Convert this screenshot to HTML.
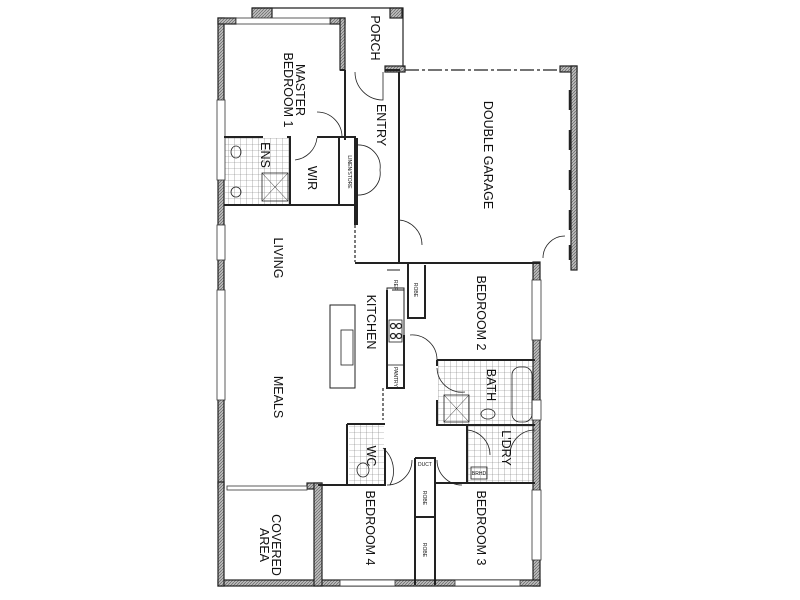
<!DOCTYPE html>
<html><head><meta charset="utf-8"><style>
html,body{margin:0;padding:0;background:#fff;}
svg{display:block}
text{font-family:"Liberation Sans Narrow","Liberation Sans",sans-serif;fill:#111;}
.l{font-size:12.5px;font-weight:normal;text-anchor:middle;}
.s{font-size:5px;text-anchor:middle;}
</style></head><body>
<svg width="800" height="600" viewBox="0 0 800 600" xmlns="http://www.w3.org/2000/svg">
<defs>
<pattern id="t" width="6" height="6" patternUnits="userSpaceOnUse"><path d="M0 0H6M0 0V6" stroke="#777" stroke-width="0.6" fill="none"/></pattern>
<pattern id="h" width="3" height="3" patternUnits="userSpaceOnUse"><rect width="3" height="3" fill="#bbb"/><path d="M0 3L3 0" stroke="#555" stroke-width="0.6"/></pattern>
</defs>
<g fill="none" stroke="#222" stroke-width="1.2">
<rect x="225" y="138" width="65" height="66" fill="url(#t)" stroke="none"/>
<rect x="438" y="361" width="97" height="64" fill="url(#t)" stroke="none"/>
<rect x="467" y="425" width="68" height="58" fill="url(#t)" stroke="none"/>
<rect x="349" y="424" width="35" height="60" fill="url(#t)" stroke="none"/>

<rect x="218" y="18" width="6" height="470" fill="url(#h)"/>
<rect x="218" y="18" width="18" height="6" fill="url(#h)"/>
<rect x="330" y="18" width="15" height="6" fill="url(#h)"/>
<rect x="340" y="18" width="5" height="52" fill="url(#h)"/>
<rect x="252" y="8" width="20" height="14" fill="url(#h)"/>
<rect x="390" y="8" width="12" height="10" fill="url(#h)"/>
<rect x="385" y="66" width="20" height="6" fill="url(#h)"/>
<rect x="560" y="66" width="17" height="6" fill="url(#h)"/>
<rect x="571" y="66" width="6" height="204" fill="url(#h)"/>
<rect x="533" y="262" width="7" height="324" fill="url(#h)"/>
<rect x="218" y="580" width="322" height="6" fill="url(#h)"/>
<rect x="218" y="482" width="6" height="104" fill="url(#h)"/>
<rect x="307" y="483" width="15" height="6" fill="url(#h)"/>
<rect x="314" y="483" width="8" height="103" fill="url(#h)"/>
<rect x="217" y="100" width="8" height="80" fill="#fff" stroke="#333" stroke-width="0.8"/>
<rect x="217" y="290" width="8" height="110" fill="#fff" stroke="#333" stroke-width="0.8"/>
<rect x="217" y="225" width="8" height="35" fill="#fff" stroke="#333" stroke-width="0.8"/>
<rect x="236" y="18" width="94" height="6" fill="#fff" stroke="#333" stroke-width="0.8"/>
<rect x="532" y="280" width="9" height="60" fill="#fff" stroke="#333" stroke-width="0.8"/>
<rect x="532" y="400" width="9" height="20" fill="#fff" stroke="#333" stroke-width="0.8"/>
<rect x="532" y="490" width="9" height="70" fill="#fff" stroke="#333" stroke-width="0.8"/>
<rect x="340" y="580" width="55" height="6" fill="#fff" stroke="#333" stroke-width="0.8"/>
<rect x="455" y="580" width="65" height="6" fill="#fff" stroke="#333" stroke-width="0.8"/>
<rect x="227" y="486" width="80" height="4" fill="#fff" stroke="#333" stroke-width="0.8"/>
<g stroke-width="2.5"><path d="M570 90v20M570 130v20M570 170v20M570 210v20M570 245v15"/></g>

<path d="M252 8H403V67"/>
<path d="M405 70H560" stroke-dasharray="14 3 3 3"/>
<g stroke-width="2">
<path d="M345 70V140"/>
<path d="M340 70H345M385 70H400"/>
<path d="M399 72V262"/>
<path d="M355 263H399"/>
<path d="M224 137H263M287 137H290V204"/>
<path d="M224 205H357"/>
<path d="M317 137H355V225"/>
<path d="M339 137V204"/>
<path d="M357 138V225"/>
<path d="M388 263H540"/>
<path d="M408 263V318H425V265"/>
<path d="M404 335V388H387V290"/>
<path d="M437 360H535"/>
<path d="M437 360V366M437 400V425H535"/>
<path d="M467 425V483H535M467 458V483"/>
<path d="M347 424V485H385V448M347 424H385"/>
<path d="M318 485H347"/>
<path d="M415 458H435V585M415 458V585"/>
<path d="M435 483H467"/>
<path d="M415 517H435"/>
</g>
<path d="M387 270H400M392 290H404" stroke-width="1"/>
<path d="M355 225V262" stroke-dasharray="3 2"/>
<path d="M383 388V420" stroke-dasharray="3 2"/>
<rect x="387" y="288" width="17" height="100" stroke-width="1"/>
<rect x="389" y="320" width="13" height="22" stroke-width="0.8"/>
<circle cx="393" cy="326" r="2.5"/><circle cx="399" cy="326" r="2.5"/><circle cx="393" cy="336" r="2.5"/><circle cx="399" cy="336" r="2.5"/>
<rect x="387" y="365" width="17" height="23" stroke-width="0.8"/>
<rect x="330" y="305" width="25" height="83" stroke-width="1"/>
<rect x="341" y="330" width="12" height="35" stroke-width="0.8"/>
<rect x="444" y="395" width="25" height="27" stroke-width="0.8"/>
<path d="M444 395L469 422M469 395L444 422" stroke-width="0.5"/>
<rect x="262" y="173" width="26" height="28" stroke-width="0.8"/>
<path d="M262 173L288 201M288 173L262 201" stroke-width="0.5"/>
<rect x="512" y="367" width="20" height="55" rx="8" stroke-width="0.8"/>
<ellipse cx="488" cy="414" rx="7" ry="5" stroke-width="0.8"/>
<ellipse cx="236" cy="152" rx="5" ry="6" stroke-width="0.8"/>
<circle cx="236" cy="192" r="5" stroke-width="0.8"/>
<ellipse cx="363" cy="470" rx="6" ry="7" stroke-width="0.8"/>
<rect x="471" y="467" width="16" height="12" stroke-width="0.8"/>
<g stroke-width="0.8">
<path d="M355 72A28 28 0 0 0 383 100V72"/>
<path d="M317 112A25 25 0 0 1 342 137"/>
<path d="M317 138A25 25 0 0 1 295 160"/>
<path d="M357 145A22 22 0 0 1 380 170M357 195A22 22 0 0 0 380 170"/>
<path d="M399 220A25 25 0 0 1 422 245"/>
<path d="M565 236A22 22 0 0 0 543 258"/>
<path d="M410 335A25 25 0 0 1 437 360"/>
<path d="M437 368A25 25 0 0 0 465 392"/>
<path d="M383 448A30 30 0 0 1 390 485"/>
<path d="M412 460A25 25 0 0 1 387 485"/>
<path d="M437 460A25 25 0 0 0 462 485"/>
<path d="M467 430A25 25 0 0 1 490 455"/>
<path d="M535 430A25 25 0 0 0 510 455"/>
</g>
</g>
<g>
<text class="l" transform="translate(296,90) rotate(90)">MASTER</text>
<text class="l" transform="translate(284,90) rotate(90)">BEDROOM 1</text>
<text class="l" transform="translate(371,38) rotate(90)">PORCH</text>
<text class="l" transform="translate(377,125) rotate(90)">ENTRY</text>
<text class="l" transform="translate(484,155) rotate(90)">DOUBLE GARAGE</text>
<text class="l" transform="translate(261,155) rotate(90)">ENS</text>
<text class="l" transform="translate(308,178) rotate(90)">WIR</text>
<text class="s" transform="translate(348,172) rotate(90)">LINEN/STORE</text>
<text class="l" transform="translate(274,258) rotate(90)">LIVING</text>
<text class="l" transform="translate(367,322) rotate(90)">KITCHEN</text>
<text class="l" transform="translate(274,397) rotate(90)">MEALS</text>
<text class="l" transform="translate(477,313) rotate(90)">BEDROOM 2</text>
<text class="l" transform="translate(487,385) rotate(90)">BATH</text>
<text class="l" transform="translate(502,448) rotate(90)">L'DRY</text>
<text class="l" transform="translate(367,456) rotate(90)">WC</text>
<text class="l" transform="translate(366,528) rotate(90)">BEDROOM 4</text>
<text class="l" transform="translate(477,528) rotate(90)">BEDROOM 3</text>
<text class="l" transform="translate(272,545) rotate(90)">COVERED</text>
<text class="l" transform="translate(260,545) rotate(90)">AREA</text>
<text class="s" transform="translate(394,285) rotate(90)">REF</text>
<text class="s" transform="translate(414,290) rotate(90)">ROBE</text>
<text class="s" transform="translate(394,377) rotate(90)">PANTRY</text>
<text class="s" transform="translate(423,498) rotate(90)">ROBE</text>
<text class="s" transform="translate(423,550) rotate(90)">ROBE</text>
<text class="s" x="425" y="466">DUCT</text>
<text class="s" x="479" y="475">BRHD</text>
</g>
</svg>
</body></html>
